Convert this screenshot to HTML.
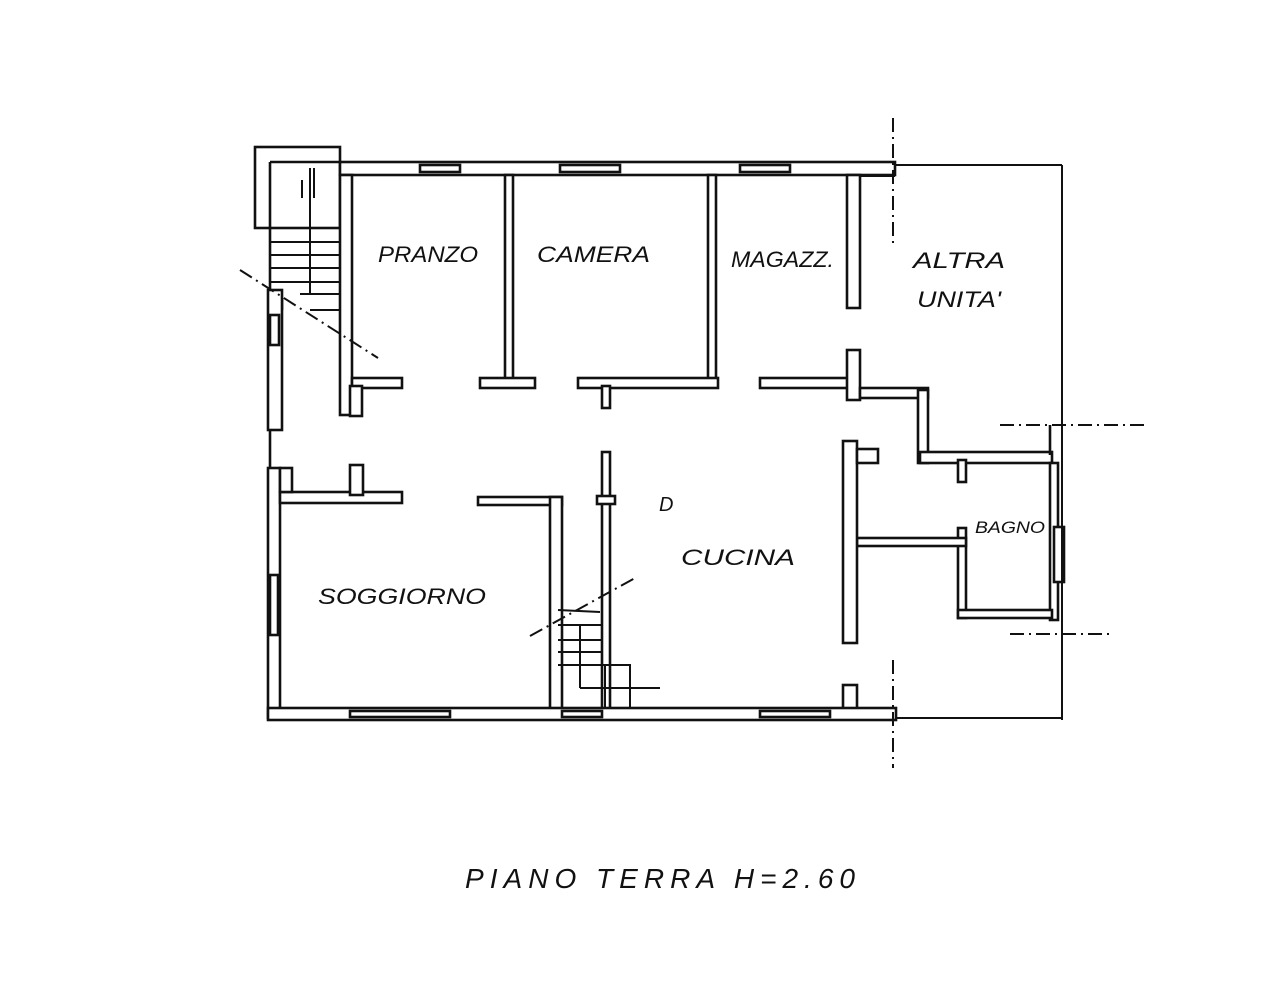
<!DOCTYPE html>
<html><head><style>
html,body{margin:0;padding:0;background:#fff;}
svg{display:block;}
text{font-family:"Liberation Sans",sans-serif;font-style:italic;fill:#111;}
</style></head><body>
<svg width="1280" height="982" viewBox="0 0 1280 982" xmlns="http://www.w3.org/2000/svg">
<rect width="1280" height="982" fill="#fff"/>
<g fill="#fff" stroke="#111" stroke-width="2.6">
<!-- stair box -->
<rect x="255" y="147" width="85" height="81"/>
<line x1="270" y1="162" x2="340" y2="162"/>
<line x1="270" y1="162" x2="270" y2="298"/>
<line x1="282" y1="298" x2="282" y2="310"/>
<g stroke-width="2">
<line x1="270" y1="242" x2="340" y2="242"/>
<line x1="270" y1="255" x2="340" y2="255"/>
<line x1="270" y1="268" x2="340" y2="268"/>
<line x1="270" y1="282" x2="340" y2="282"/>
<line x1="300" y1="294" x2="340" y2="294"/>
<line x1="310" y1="310" x2="340" y2="310"/>
<line x1="310" y1="168" x2="310" y2="295"/>
<line x1="302" y1="180" x2="302" y2="198"/>
<line x1="314" y1="168" x2="314" y2="198"/>
</g>
<!-- left exterior wall -->
<rect x="268" y="290" width="14" height="140"/>
<rect x="270" y="315" width="9" height="30"/>
<line x1="270" y1="430" x2="270" y2="470"/>
<rect x="268" y="468" width="12" height="250"/>
<rect x="270" y="575" width="8" height="60"/>
<!-- top wall -->
<rect x="340" y="162" width="555" height="13"/>
<rect x="420" y="165" width="40" height="7"/>
<rect x="560" y="165" width="60" height="7"/>
<rect x="740" y="165" width="50" height="7"/>
<!-- stair/pranzo wall -->
<rect x="340" y="175" width="12" height="240"/>
<rect x="352" y="378" width="50" height="10"/>
<rect x="350" y="386" width="12" height="30"/>
<!-- pranzo/camera -->
<rect x="505" y="175" width="8" height="205"/>
<rect x="480" y="378" width="55" height="10"/>
<!-- camera/magazz -->
<rect x="708" y="175" width="8" height="205"/>
<rect x="578" y="378" width="140" height="10"/>
<rect x="602" y="386" width="8" height="22"/>
<!-- magazz right -->
<rect x="847" y="175" width="13" height="133"/>
<rect x="760" y="378" width="92" height="10"/>
<rect x="847" y="350" width="13" height="50"/>
<rect x="860" y="388" width="68" height="10"/>
<rect x="918" y="390" width="10" height="73"/>
<rect x="920" y="452" width="132" height="11"/>
<rect x="958" y="460" width="8" height="22"/>
<line x1="1050" y1="425" x2="1050" y2="455"/>
<!-- bagno -->
<rect x="1050" y="463" width="8" height="157"/>
<rect x="1054" y="527" width="10" height="55"/>
<rect x="958" y="528" width="8" height="90"/>
<rect x="958" y="610" width="94" height="8"/>
<rect x="857" y="538" width="109" height="8"/>
<!-- cucina right -->
<rect x="843" y="441" width="14" height="202"/>
<rect x="857" y="449" width="21" height="14"/>
<rect x="843" y="685" width="14" height="27"/>
<!-- soggiorno -->
<rect x="280" y="492" width="122" height="11"/>
<rect x="280" y="468" width="12" height="24"/>
<rect x="350" y="465" width="13" height="30"/>
<rect x="478" y="497" width="84" height="8"/>
<rect x="550" y="497" width="12" height="215"/>
<rect x="602" y="452" width="8" height="260"/>
<rect x="597" y="496" width="18" height="8"/>
<!-- bottom wall -->
<rect x="268" y="708" width="628" height="12"/>
<rect x="350" y="711" width="100" height="6"/>
<rect x="562" y="711" width="40" height="6"/>
<rect x="760" y="711" width="70" height="6"/>
</g>
<!-- small stair -->
<g stroke="#111" stroke-width="2" fill="none">
<line x1="558" y1="625" x2="602" y2="625"/>
<line x1="558" y1="640" x2="602" y2="640"/>
<line x1="558" y1="652" x2="602" y2="652"/>
<line x1="558" y1="665" x2="630" y2="665"/>
<line x1="580" y1="625" x2="580" y2="688"/>
<line x1="580" y1="688" x2="660" y2="688"/>
<rect x="605" y="665" width="25" height="43"/>
<line x1="558" y1="610" x2="600" y2="612"/>
<!-- altra unita outline -->
<line x1="895" y1="165" x2="1062" y2="165"/>
<line x1="1062" y1="165" x2="1062" y2="720"/>
<line x1="895" y1="718" x2="1062" y2="718"/>
<line x1="860" y1="176" x2="895" y2="176"/>
</g>
<!-- dash-dot lines -->
<g stroke="#111" stroke-width="2" fill="none" stroke-dasharray="14,5,2,5">
<line x1="240" y1="270" x2="378" y2="358"/>
<line x1="530" y1="636" x2="635" y2="578"/>
<line x1="893" y1="118" x2="893" y2="245"/>
<line x1="893" y1="660" x2="893" y2="768"/>
<line x1="1000" y1="425" x2="1148" y2="425"/>
<line x1="1010" y1="634" x2="1112" y2="634"/>
</g>
<g font-size="22">
<text x="378" y="262" textLength="100" lengthAdjust="spacingAndGlyphs">PRANZO</text>
<text x="537" y="262" textLength="113" lengthAdjust="spacingAndGlyphs">CAMERA</text>
<text x="731" y="267" textLength="103" lengthAdjust="spacingAndGlyphs">MAGAZZ.</text>
<text x="913" y="268" textLength="92" lengthAdjust="spacingAndGlyphs">ALTRA</text>
<text x="917" y="307" textLength="84" lengthAdjust="spacingAndGlyphs">UNITA'</text>
<text x="318" y="604" textLength="168" lengthAdjust="spacingAndGlyphs">SOGGIORNO</text>
<text x="681" y="565" textLength="114" lengthAdjust="spacingAndGlyphs">CUCINA</text>
<text x="659" y="511" font-size="20">D</text>
<text x="975" y="533" font-size="17" textLength="70" lengthAdjust="spacingAndGlyphs">BAGNO</text>
<text x="465" y="888" font-size="28" textLength="390" lengthAdjust="spacing">PIANO  TERRA  H=2.60</text>
</g>
</svg>
</body></html>
